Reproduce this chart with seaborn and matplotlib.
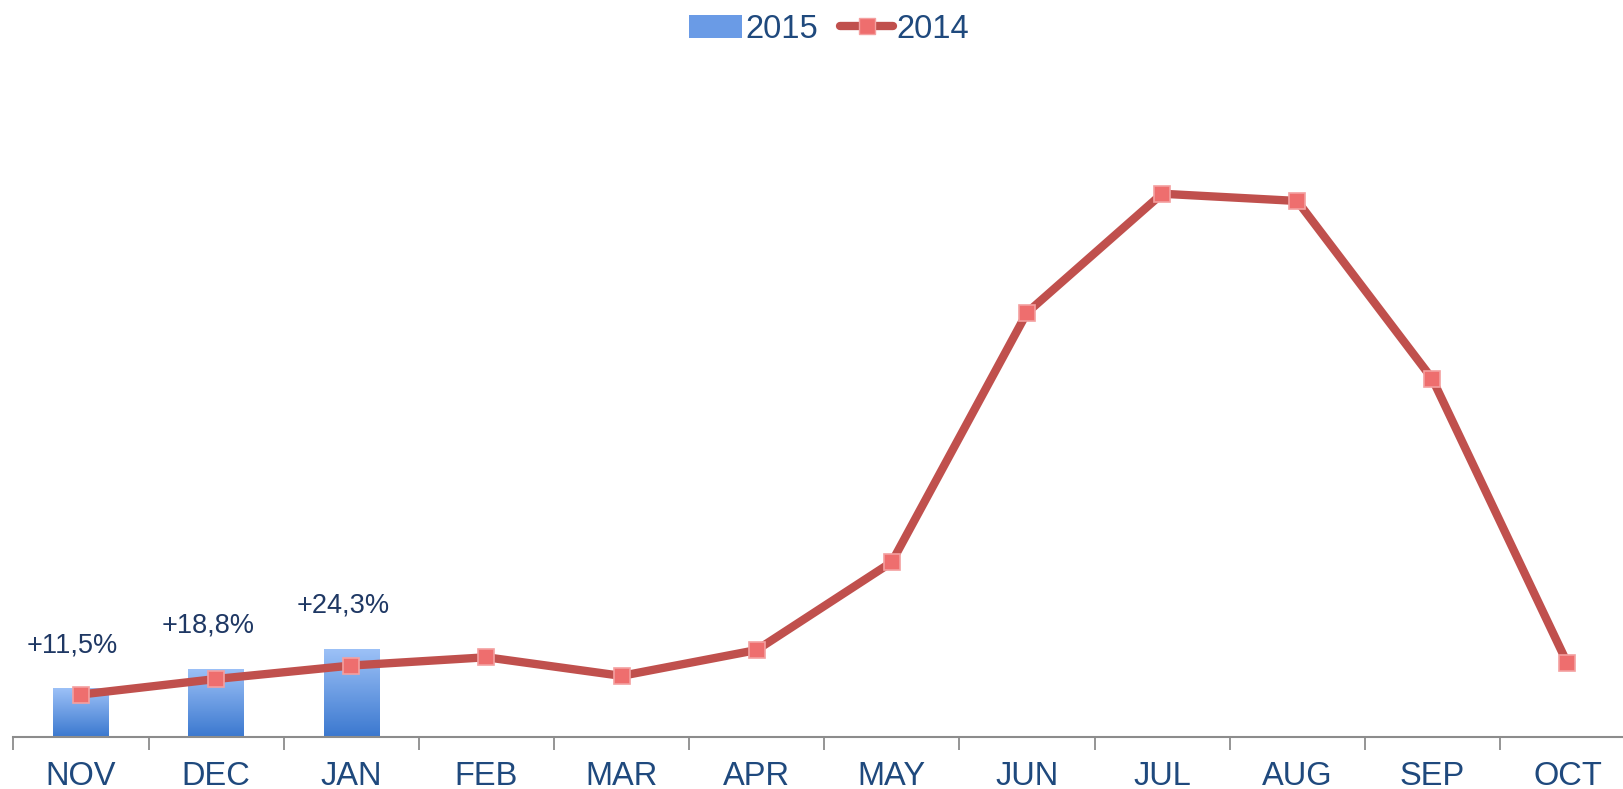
import numpy as np
import pandas as pd
import matplotlib
matplotlib.use("Agg")
import matplotlib.pyplot as plt
import seaborn as sns
from matplotlib.lines import Line2D
from matplotlib.patches import Patch

# dados (unidades relativas)
meses = ["NOV", "DEC", "JAN", "FEB", "MAR", "APR", "MAY", "JUN", "JUL", "AUG", "SEP", "OCT"]
valores_2014 = [41, 56, 69, 77, 59, 84, 169, 410, 525, 518, 346, 71]
meses_2015 = ["NOV", "DEC", "JAN"]
valores_2015 = [47, 66, 85]
rotulos_2015 = ["+11,5%", "+18,8%", "+24,3%"]

sns.set_style("white")
plt.rcParams["font.family"] = ["Liberation Sans", "DejaVu Sans"]

azul_texto = "#1F497D"
vermelho = "#C0504D"

fig = plt.figure(figsize=(16.24, 7.89), dpi=100)
ax = fig.add_axes([0.0083, 0.066, 0.9985, 0.855])

df_2015 = pd.DataFrame({"mes": meses_2015, "valor": valores_2015})
sns.barplot(data=df_2015, x="mes", y="valor", order=meses, width=0.41,
            color="#6A9BE6", ax=ax, zorder=2)

# gradiente nas barras
grad = np.linspace(0, 1, 256).reshape(-1, 1)
cmap = matplotlib.colors.LinearSegmentedColormap.from_list("g", ["#3B78CF", "#9CC1F7"])
for p in list(ax.patches):
    x0, y0 = p.get_x(), p.get_y()
    w, h = p.get_width(), p.get_height()
    if np.isnan(h) or h == 0:
        continue
    im = ax.imshow(grad, extent=[x0, x0 + w, y0, y0 + h], origin="lower",
                   cmap=cmap, aspect="auto", zorder=2)
    im.set_clip_path(p)
    p.set_facecolor("none")
    p.set_edgecolor("none")

sns.pointplot(x=meses, y=valores_2014, order=meses, color=vermelho,
              markers="s", linestyles="-", ax=ax, zorder=4,
              linewidth=6, markersize=11, markerfacecolor="#EE6E6E",
              markeredgecolor="#F4A0A0", markeredgewidth=1.2)

for m, v, r in zip(meses_2015, valores_2015, rotulos_2015):
    ax.annotate(r, xy=(meses.index(m), v), xytext=(-6, 31), textcoords="offset points",
                ha="center", va="center", fontsize=19.5, color="#1F3864")

ax.set_xlim(-0.5, 11.5)
ax.set_ylim(0, 652)
ax.set_xlabel("")
ax.set_ylabel("")
ax.set_yticks([])
ax.set_xticks(range(len(meses)))
ax.set_xticklabels(meses, fontsize=23.5, color=azul_texto)
ax.set_xticks(np.arange(-0.5, 12, 1), minor=True)
ax.tick_params(axis="x", which="major", bottom=True, length=0, pad=17)
ax.tick_params(axis="x", which="minor", bottom=True, length=9, width=1.3,
               color="#8C8C8C", direction="out")
for s in ["top", "left", "right"]:
    ax.spines[s].set_visible(False)
ax.spines["bottom"].set_color("#8C8C8C")
ax.spines["bottom"].set_linewidth(1.5)

handles = [Patch(facecolor="#6A9BE6", edgecolor="none", label="2015"),
           Line2D([0], [0], color=vermelho, lw=6, marker="s", markersize=11,
                  markerfacecolor="#EE6E6E", markeredgecolor="#F4A0A0", label="2014")]
fig.legend(handles=handles, loc="center", bbox_to_anchor=(0.5105, 0.963), ncol=2,
           frameon=False, fontsize=23.5, labelcolor=azul_texto, handlelength=1.6,
           handletextpad=0.1, columnspacing=0.7)

fig.savefig("out.png", dpi=100)
